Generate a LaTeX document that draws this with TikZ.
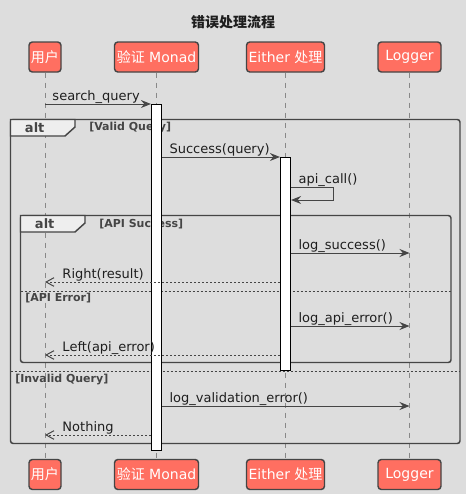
\documentclass[tikz,border=0pt]{standalone}
\usepackage{fontspec}
\setmainfont{DejaVu Sans}
\newfontfamily\cjk{Noto Sans CJK SC}
\usepackage{tikz}
\usetikzlibrary{arrows.meta, positioning, calc}
\definecolor{bgc}{HTML}{DDDDDD}
\definecolor{boxc}{HTML}{FF6F61}
\definecolor{linec}{HTML}{454545}
\definecolor{lifec}{HTML}{888888}
\definecolor{tabc}{HTML}{EEEEEE}
\definecolor{txtc}{HTML}{1E1E1E}
\tikzset{
    actor/.style={rectangle, rounded corners=2.5pt, draw=linec, line width=1.1pt, fill=boxc, text=white, font=\fontsize{10.5}{12}\selectfont, minimum height=22.5pt, inner xsep=1.5pt},
    life/.style={draw=lifec, line width=0.75pt, dash pattern=on 3.75pt off 3.75pt},
    act/.style={rectangle, draw=black, line width=0.9pt, fill=white, minimum width=7.5pt, inner sep=0pt, anchor=north},
    msg/.style={draw=linec, line width=0.75pt, -{Stealth[length=7.5pt, width=6pt, inset=2.5pt]}},
    reply/.style={draw=linec, line width=0.75pt, dash pattern=on 1.5pt off 1.5pt, -{Straight Barb[length=6pt, width=6.5pt, line width=0.75pt]}},
    lbl/.style={font=\fontsize{9.75}{11}\selectfont, text=txtc, inner sep=0pt},
    frame/.style={draw=linec, line width=1.1pt, rounded corners=2pt},
    tab/.style={draw=linec, line width=1.1pt, fill=tabc},
    sep/.style={draw=linec, line width=0.75pt, dash pattern=on 1.5pt off 1.5pt},
    kw/.style={font=\bfseries\fontsize{9.75}{11}\selectfont, text=linec, inner sep=0pt},
    guard/.style={font=\bfseries\fontsize{8.25}{10}\selectfont, text=linec, inner sep=0pt, anchor=west}
}

\begin{document}
\begin{tikzpicture}[x=0.75pt, y=-0.75pt]
    \path[fill=bgc] (0,0) rectangle (466,494);
    \useasboundingbox (0,0) rectangle (466,494);

    % Title
    \node[font=\bfseries\fontsize{10.5}{12}\selectfont, text=txtc] (title) at (233,22) {\cjk 错误处理流程};

    % Participants
    \foreach \p/\x/\w/\t in {user/45/22.5pt/{\cjk 用户}, monad/156.5/63pt/{{\cjk 验证} Monad}, either/285.5/58.5pt/{Either {\cjk 处理}}, logger/409.5/47.25pt/{Logger}} {
        \node[actor, minimum width=\w] (\p) at (\x,57) {\t};
        \node[actor, minimum width=\w] (\p B) at (\x,474.5) {\t};
        \draw[life] (\p) -- (\p B);
    }

    % Levels of the messages
    \foreach \n/\y in {m1/104, m2/157, m3/187, m3b/200, m4/253, m5/282, m6/326, m7/355, m8/406, m9/435} {
        \coordinate (\n) at (0,\y);
    }

    % Frames
    \draw[frame] (10.5,119.5) rectangle (460,443.5);
    \draw[tab] (10.5,119.5) -- (75,119.5) -- (75,127) -- (65,136) -- (10.5,136) -- cycle;
    \node[kw] (alt1) at (34.7,128) {alt};
    \node[guard] (g1) at (89,127.7) {[Valid Query]};
    \draw[sep] (10.5,371) -- (460,371);
    \node[guard] (g4) at (15,380) {[Invalid Query]};

    \draw[frame] (20.5,215.5) rectangle (451,362.5);
    \draw[tab] (20.5,215.5) -- (85,215.5) -- (85,223) -- (75,232) -- (20.5,232) -- cycle;
    \node[kw] (alt2) at (44.7,224) {alt};
    \node[guard] (g2) at (99,223.7) {[API Success]};
    \draw[sep] (20.5,291) -- (451,291);
    \node[guard] (g3) at (25,298) {[API Error]};

    % Activations
    \node[act, minimum height=259.5pt] (actM) at (156.5,104) {};
    \node[act, minimum height=159.5pt] (actE) at (285.5,157) {};

    % Messages
    \draw[msg] (user |- m1) -- (actM.west |- m1) node[lbl, pos=0, anchor=base west, xshift=5.25pt, yshift=3pt] {search\_query};
    \draw[msg] (actM.east |- m2) -- (actE.west |- m2) node[lbl, pos=0, anchor=base west, xshift=5.25pt, yshift=3pt] {Success(query)};
    \draw[msg] (actE.east |- m3) -| ($(actE.east |- m3)+(42,0)$) node[lbl, pos=0, anchor=base west, xshift=5.25pt, yshift=3pt] {api\_call()} |- (actE.east |- m3b);
    \draw[msg] (actE.east |- m4) -- (logger |- m4) node[lbl, pos=0, anchor=base west, xshift=5.25pt, yshift=3pt] {log\_success()};
    \draw[reply] (actE.west |- m5) -- (user |- m5) node[lbl, pos=1, anchor=base west, xshift=12.75pt, yshift=3pt] {Right(result)};
    \draw[msg] (actE.east |- m6) -- (logger |- m6) node[lbl, pos=0, anchor=base west, xshift=5.25pt, yshift=3pt] {log\_api\_error()};
    \draw[reply] (actE.west |- m7) -- (user |- m7) node[lbl, pos=1, anchor=base west, xshift=12.75pt, yshift=3pt] {Left(api\_error)};
    \draw[msg] (actM.east |- m8) -- (logger |- m8) node[lbl, pos=0, anchor=base west, xshift=5.25pt, yshift=3pt] {log\_validation\_error()};
    \draw[reply] (actM.west |- m9) -- (user |- m9) node[lbl, pos=1, anchor=base west, xshift=12.75pt, yshift=3pt] {Nothing};
\end{tikzpicture}
\end{document}
